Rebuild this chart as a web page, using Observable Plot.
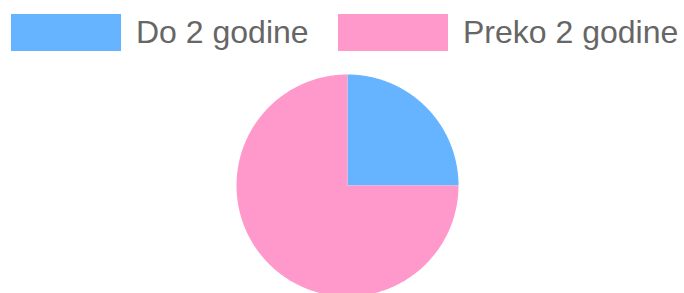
<!DOCTYPE html>
<html>
<head>
<meta charset="utf-8">
<script src="https://cdn.jsdelivr.net/npm/d3@7"></script>
<script src="https://cdn.jsdelivr.net/npm/@observablehq/plot@0.6"></script>
<style>
  html, body { margin: 0; padding: 0; background: #fff; overflow: hidden; }
  #wrap { position: relative; width: 684px; height: 293px; font-family: "Liberation Sans", Arial, Helvetica, sans-serif; }
  #chart svg { position: absolute; left: 0; top: 0; }
  .sw { position: absolute; top: 14px; height: 37px; }
  .lt { position: absolute; top: 16px; font-size: 32px; line-height: 32px; color: #666; white-space: nowrap; }
</style>
</head>
<body>
<div id="wrap">
  <div id="chart"></div>
  <div id="legend"></div>
</div>
<script>
const labels = ["Do 2 godine", "Preko 2 godine"];
const values = [25, 75];
const colors = ["#66b3ff", "#ff99cc"];

const arcs = d3.pie().sort(null)(values);
const pts = [];
arcs.forEach((a, i) => {
  pts.push({label: labels[i], x: 0, y: 0});
  const n = Math.max(2, Math.ceil((a.endAngle - a.startAngle) / (Math.PI / 360)));
  for (let k = 0; k <= n; k++) {
    const t = a.startAngle + (a.endAngle - a.startAngle) * k / n;
    pts.push({label: labels[i], x: Math.sin(t), y: Math.cos(t)});
  }
});

const chart = Plot.plot({
  width: 684,
  height: 293,
  x: {domain: [-1, 1], range: [236, 458], axis: null},
  y: {domain: [-1, 1], range: [296, 74], axis: null},
  color: {domain: labels, range: colors},
  marks: [
    Plot.line(pts, {x: "x", y: "y", z: "label", fill: "label", stroke: "none", curve: "linear"})
  ]
});
document.getElementById("chart").appendChild(chart);

// legend
const legendPos = [{box: 11, text: 136}, {box: 338, text: 463}];
const leg = document.getElementById("legend");
labels.forEach((l, i) => {
  const b = document.createElement("div");
  b.className = "sw";
  b.style.left = legendPos[i].box + "px";
  b.style.width = "110px";
  b.style.background = colors[i];
  leg.appendChild(b);
  const t = document.createElement("div");
  t.className = "lt";
  t.style.left = legendPos[i].text + "px";
  t.textContent = l;
  leg.appendChild(t);
});
</script>
</body>
</html>
